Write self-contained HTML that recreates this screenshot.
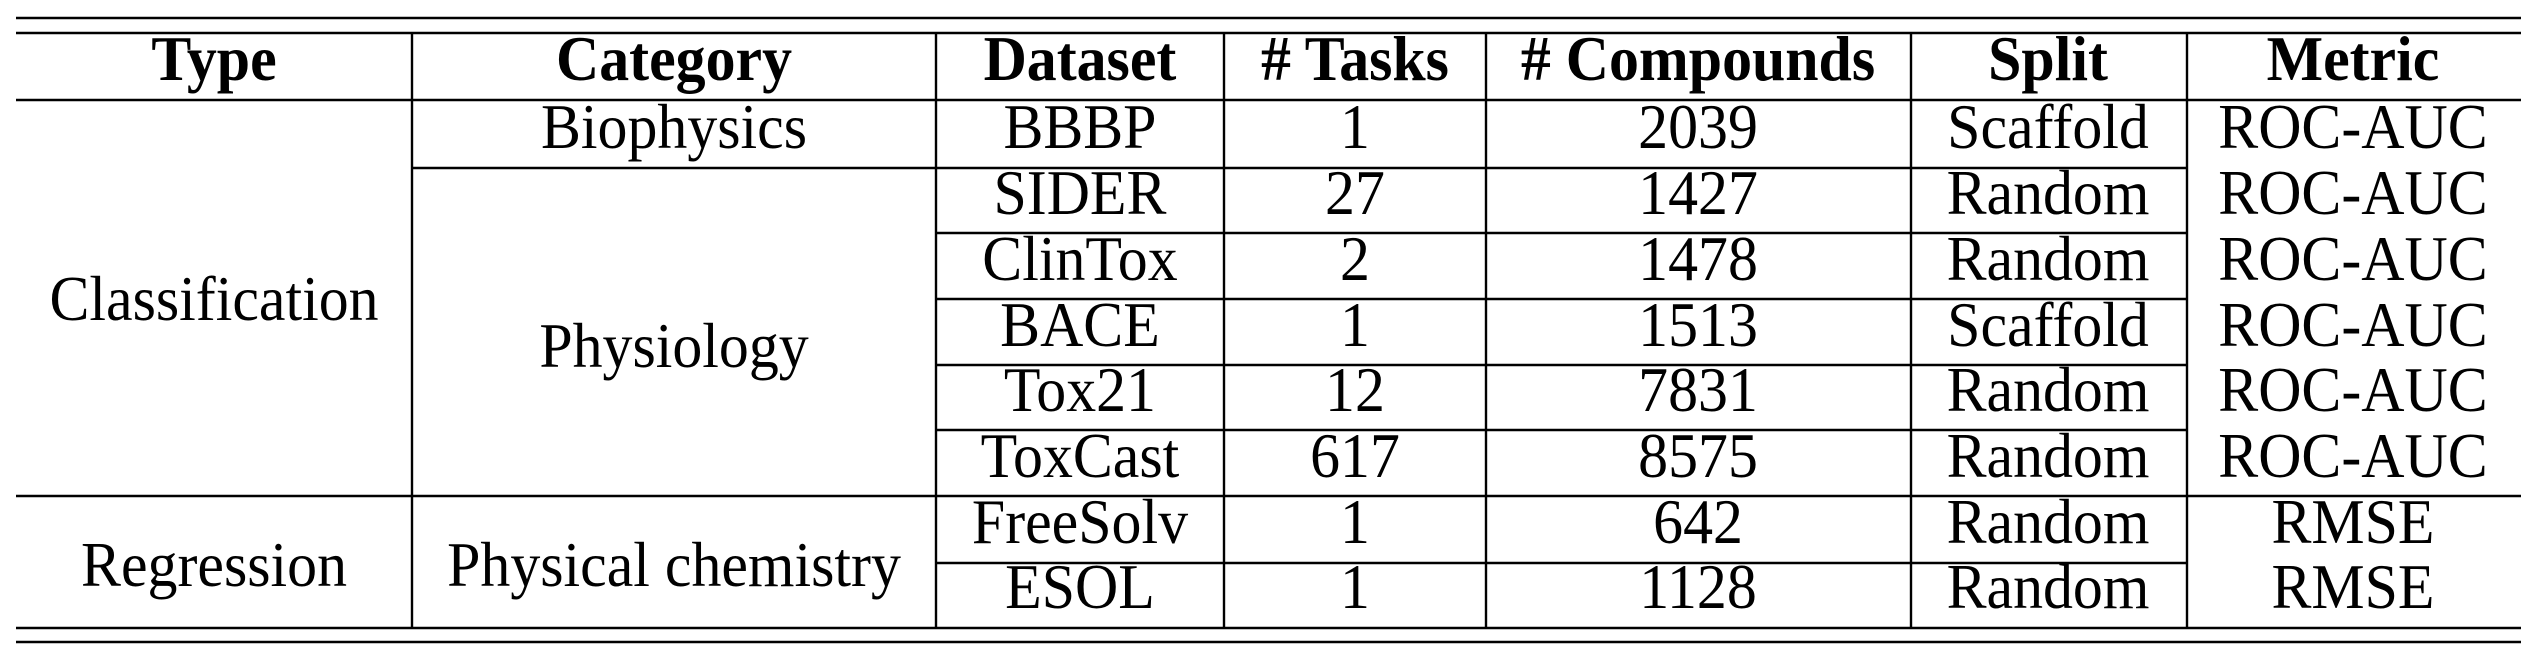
<!DOCTYPE html>
<html><head><meta charset="utf-8"><style>
html,body{margin:0;padding:0;background:#fff;}
svg{display:block;}
text{font-family:"Liberation Serif","Times New Roman",serif;font-size:63px;fill:#000;text-anchor:middle;}
.b{font-weight:bold;}
</style></head><body>
<svg width="2536" height="656" viewBox="0 0 2536 656" xmlns="http://www.w3.org/2000/svg">
<g stroke="#000" stroke-width="2.4">
<line x1="16" y1="18" x2="2521" y2="18"/>
<line x1="16" y1="33" x2="2521" y2="33"/>
<line x1="16" y1="100" x2="2521" y2="100"/>
<line x1="16" y1="496" x2="2521" y2="496"/>
<line x1="16" y1="628" x2="2521" y2="628"/>
<line x1="16" y1="642" x2="2521" y2="642"/>
<line x1="412" y1="168" x2="2186" y2="168"/>
<line x1="936" y1="233" x2="2186" y2="233"/>
<line x1="936" y1="299" x2="2186" y2="299"/>
<line x1="936" y1="365" x2="2186" y2="365"/>
<line x1="936" y1="430" x2="2186" y2="430"/>
<line x1="936" y1="563" x2="2186" y2="563"/>
<line x1="412" y1="33" x2="412" y2="628"/>
<line x1="936" y1="33" x2="936" y2="628"/>
<line x1="1224" y1="33" x2="1224" y2="628"/>
<line x1="1486" y1="33" x2="1486" y2="628"/>
<line x1="1911" y1="33" x2="1911" y2="628"/>
<line x1="2187" y1="33" x2="2187" y2="628"/>
</g>
<g transform="scale(0.95,1)">
<text class="b" x="225.3" y="80">Type</text>
<text class="b" x="709.5" y="80">Category</text>
<text class="b" x="1136.8" y="80">Dataset</text>
<text class="b" x="1426.3" y="80"># Tasks</text>
<text class="b" x="1787.4" y="80"># Compounds</text>
<text class="b" x="2155.8" y="80">Split</text>
<text class="b" x="2476.8" y="80">Metric</text>

<text x="225.3" y="320">Classification</text>
<text x="225.3" y="586">Regression</text>
<text x="709.5" y="148">Biophysics</text>
<text x="709.5" y="367">Physiology</text>
<text x="709.5" y="586">Physical chemistry</text>

<text x="1136.8" y="148">BBBP</text><text x="1426.3" y="148">1</text><text x="1787.4" y="148">2039</text><text x="2155.8" y="148">Scaffold</text><text x="2476.8" y="148">ROC-AUC</text>
<text x="1136.8" y="214">SIDER</text><text x="1426.3" y="214">27</text><text x="1787.4" y="214">1427</text><text x="2155.8" y="214">Random</text><text x="2476.8" y="214">ROC-AUC</text>
<text x="1136.8" y="280">ClinTox</text><text x="1426.3" y="280">2</text><text x="1787.4" y="280">1478</text><text x="2155.8" y="280">Random</text><text x="2476.8" y="280">ROC-AUC</text>
<text x="1136.8" y="346">BACE</text><text x="1426.3" y="346">1</text><text x="1787.4" y="346">1513</text><text x="2155.8" y="346">Scaffold</text><text x="2476.8" y="346">ROC-AUC</text>
<text x="1136.8" y="411">Tox21</text><text x="1426.3" y="411">12</text><text x="1787.4" y="411">7831</text><text x="2155.8" y="411">Random</text><text x="2476.8" y="411">ROC-AUC</text>
<text x="1136.8" y="477">ToxCast</text><text x="1426.3" y="477">617</text><text x="1787.4" y="477">8575</text><text x="2155.8" y="477">Random</text><text x="2476.8" y="477">ROC-AUC</text>
<text x="1136.8" y="543">FreeSolv</text><text x="1426.3" y="543">1</text><text x="1787.4" y="543">642</text><text x="2155.8" y="543">Random</text><text x="2476.8" y="543">RMSE</text>
<text x="1136.8" y="608">ESOL</text><text x="1426.3" y="608">1</text><text x="1787.4" y="608">1128</text><text x="2155.8" y="608">Random</text><text x="2476.8" y="608">RMSE</text>
</g>
</svg>
</body></html>
